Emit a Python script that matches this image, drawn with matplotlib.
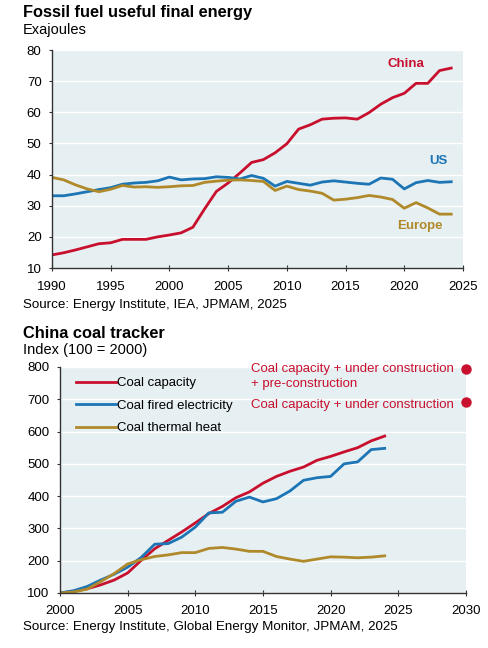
import matplotlib.pyplot as plt
import numpy as np

plt.rcParams['font.family'] = ['Liberation Sans', 'DejaVu Sans']

RED = "#C8102E"
BLUE = "#1C75B5"
GOLD = "#B08A2A"
BG = "#E6EFF2"

# Fossil fuel useful final energy (EJ)
years_top = np.arange(1990, 2025)
china = [14.2, 14.9, 15.8, 16.8, 17.8, 18.1, 19.2, 19.2, 19.2, 20.0,
         20.6, 21.3, 23.1, 29.0, 34.6, 37.3, 40.5, 43.9, 44.8, 47.0,
         49.9, 54.6, 56.0, 57.8, 58.1, 58.2, 57.8, 59.9, 62.6, 64.7,
         66.1, 69.3, 69.3, 73.4, 74.2]
us = [33.2, 33.2, 33.8, 34.5, 35.2, 35.8, 36.9, 37.3, 37.5, 38.0,
      39.2, 38.3, 38.6, 38.7, 39.3, 39.1, 38.6, 39.7, 38.8, 36.3,
      37.8, 37.2, 36.6, 37.6, 38.0, 37.6, 37.2, 36.9, 38.9, 38.5,
      35.4, 37.4, 38.1, 37.5, 37.7]
europe = [39.1, 38.3, 36.7, 35.4, 34.5, 35.3, 36.5, 36.0, 36.1, 35.9,
          36.1, 36.4, 36.5, 37.5, 37.9, 38.2, 38.3, 38.1, 37.8, 34.9,
          36.3, 35.2, 34.7, 34.0, 31.8, 32.1, 32.6, 33.3, 32.8, 32.0,
          29.2, 31.0, 29.3, 27.3, 27.3]

# China coal tracker (index, 100 = 2000)
years_bot = np.arange(2000, 2025)
coal_capacity = [100, 105, 113, 125, 140, 162, 201, 237, 263, 289,
                 317, 346, 368, 395, 413, 440, 461, 477, 490, 511,
                 523, 537, 550, 571, 586]
coal_electricity = [100, 107, 120, 140, 158, 180, 210, 251, 253, 273,
                    304, 348, 350, 384, 397, 382, 392, 416, 449, 457,
                    461, 500, 506, 544, 548]
coal_heat = [100, 103, 112, 135, 160, 190, 203, 213, 218, 225,
             225, 238, 241, 236, 229, 229, 213, 205, 198, 205,
             212, 211, 209, 211, 215]
outlook_year = 2030
outlook_values = [795, 690]
outlook_labels = ["Coal capacity + under construction\n+ pre-construction",
                  "Coal capacity + under construction"]

fig = plt.figure(figsize=(4.89, 6.48), dpi=100)


def style_axes(ax):
    ax.set_facecolor(BG)
    for side in ["top", "right"]:
        ax.spines[side].set_visible(False)
    for side in ["left", "bottom"]:
        ax.spines[side].set_color("#333333")
        ax.spines[side].set_linewidth(1.0)
    ax.yaxis.grid(True, color="white", linewidth=1.0)
    ax.set_axisbelow(True)
    ax.tick_params(axis="y", direction="out", length=2.5, labelsize=9.5, pad=5, color="#333333")
    ax.tick_params(axis="x", direction="inout", length=5, labelsize=9.5, pad=6.5, color="#333333")


# Top chart
ax1 = fig.add_axes([0.1063, 0.5864, 0.8405, 0.3364])
style_axes(ax1)
ax1.plot(years_top, china, color=RED, lw=2)
ax1.plot(years_top, us, color=BLUE, lw=2)
ax1.plot(years_top, europe, color=GOLD, lw=2)
ax1.set_xlim(1990, 2025)
ax1.set_ylim(10, 80)
ax1.set_xticks(range(1990, 2026, 5))
ax1.set_yticks(range(10, 81, 10))
ax1.text(2020.1, 75.4, "China", color=RED, fontsize=9.5, fontweight="bold", ha="center", va="center")
ax1.text(2022.9, 44.5, "US", color=BLUE, fontsize=9.5, fontweight="bold", ha="center", va="center")
ax1.text(2021.3, 23.4, "Europe", color=GOLD, fontsize=9.5, fontweight="bold", ha="center", va="center")

fig.text(23 / 489, 1 - 12 / 648, "Fossil fuel useful final energy", fontsize=11.8,
         fontweight="bold", va="center")
fig.text(23 / 489, 1 - 30 / 648, "Exajoules", fontsize=10.5, va="center")
fig.text(23 / 489, 1 - 305 / 648, "Source: Energy Institute, IEA, JPMAM, 2025", fontsize=9.6, va="center")

# Bottom chart
ax2 = fig.add_axes([0.1227, 0.0849, 0.830, 0.3488])
style_axes(ax2)
ax2.plot(years_bot, coal_capacity, color=RED, lw=2, label="Coal capacity")
ax2.plot(years_bot, coal_electricity, color=BLUE, lw=2, label="Coal fired electricity")
ax2.plot(years_bot, coal_heat, color=GOLD, lw=2, label="Coal thermal heat")
ax2.plot([outlook_year] * 2, outlook_values, "o", color=RED, ms=6.5, clip_on=False, zorder=5)
ax2.text(outlook_year - 0.85, 770, outlook_labels[0], color=RED, fontsize=9.5,
         ha="right", va="center", multialignment="left", linespacing=1.3)
ax2.text(outlook_year - 0.85, 683, outlook_labels[1], color=RED, fontsize=9.5,
         ha="right", va="center")
ax2.set_xlim(2000, 2030)
ax2.set_ylim(100, 800)
ax2.set_xticks(range(2000, 2031, 5))
ax2.set_yticks(range(100, 801, 100))
ax2.legend(loc="upper left", bbox_to_anchor=(0.02, 0.99), frameon=False, fontsize=9.5,
           handlelength=3.0, handletextpad=0.1, labelspacing=0.78, borderaxespad=0.2)

fig.text(23 / 489, 1 - 334 / 648, "China coal tracker", fontsize=11.8, fontweight="bold", va="center")
fig.text(23 / 489, 1 - 350 / 648, "Index (100 = 2000)", fontsize=10.5, va="center")
fig.text(23 / 489, 1 - 627 / 648, "Source: Energy Institute, Global Energy Monitor, JPMAM, 2025",
         fontsize=9.6, va="center")

fig.savefig("out.png", dpi=100)
